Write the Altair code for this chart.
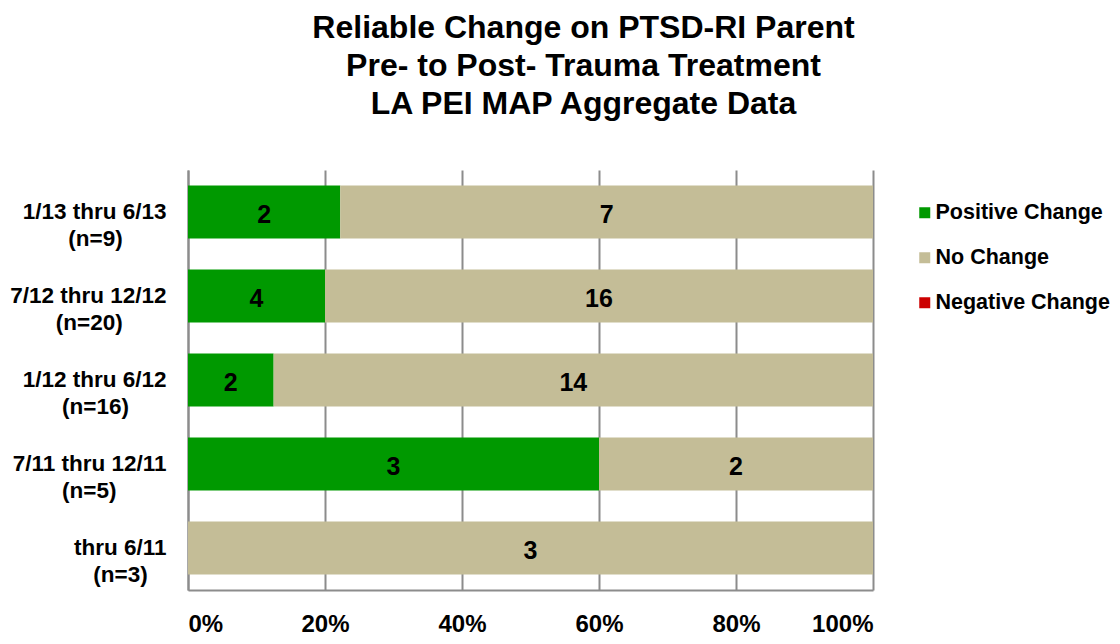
import altair as alt
import pandas as pd

periods_line1 = ["1/13 thru 6/13", "7/12 thru 12/12", "1/12 thru 6/12", "7/11 thru 12/11", "thru 6/11"]
periods_line2 = ["(n=9)", "(n=20)", "(n=16)", "(n=5)", "(n=3)"]
categories = ["Positive Change", "No Change", "Negative Change"]
colors = ["#009900", "#C4BD97", "#CC0000"]
positive = [2, 4, 2, 3, 0]
no_change = [7, 16, 14, 2, 3]
negative = [0, 0, 0, 0, 0]
x_ticks = [0, 0.2, 0.4, 0.6, 0.8, 1.0]

FONT = "Liberation Sans"

# approximate bold Arial advance widths (per 1000 em) to centre the second label line
W = {c: 556 for c in "0123456789"}
W.update({"/": 278, " ": 278, "t": 333, "h": 611, "r": 389, "u": 611,
          "(": 333, ")": 333, "n": 611, "=": 584})


def wid(s):
    return sum(W.get(ch, 556) for ch in s)


labels = []
for l1, l2 in zip(periods_line1, periods_line2):
    pad = max(0, round((wid(l1) - wid(l2)) / 2 / 278))
    # trailing zero-width space keeps the no-break spaces from being trimmed
    labels.append(l1 + "|" + l2 + "\u00a0" * pad + "\u200b")

rows = []
for i, lab in enumerate(labels):
    for j, (cat, vals) in enumerate(zip(categories, [positive, no_change, negative])):
        rows.append({"period": lab, "category": cat, "count": vals[i], "order": j})
df = pd.DataFrame(rows)

y_enc = alt.Y(
    "period:N",
    sort=labels,
    title=None,
    scale=alt.Scale(paddingInner=0.37, paddingOuter=0.186),
    axis=alt.Axis(
        labelExpr="split(datum.label, '|')",
        labelFont=FONT,
        labelFontSize=22.5,
        labelFontWeight="bold",
        labelColor="#000000",
        labelLineHeight=27,
        labelPadding=22,
        labelAlign="right",
        labelBaseline="middle",
        labelLimit=300,
        ticks=False,
        domainColor="#8C8C8C",
        domainWidth=2,
        grid=False,
    ),
)

bars = alt.Chart(df).mark_bar().encode(
    x=alt.X(
        "count:Q",
        stack="normalize",
        title=None,
        scale=alt.Scale(domain=[0, 1], nice=False),
        axis=alt.Axis(
            values=x_ticks,
            format=".0%",
            labelFont=FONT,
            labelFontSize=24,
            labelFontWeight="bold",
            labelColor="#000000",
            labelPadding=22,
            ticks=False,
            domainColor="#8C8C8C",
            domainWidth=2,
            gridColor="#8C8C8C",
            gridWidth=2,
            gridOpacity=1,
        ),
    ),
    y=y_enc,
    color=alt.Color(
        "category:N",
        sort=categories,
        scale=alt.Scale(domain=categories, range=colors),
        legend=alt.Legend(
            title=None,
            orient="none",
            legendX=726,
            legendY=32,
            symbolType="square",
            symbolSize=121,
            symbolStrokeWidth=0,
            labelFont=FONT,
            labelFontSize=21.5,
            labelFontWeight="bold",
            labelColor="#000000",
            labelOffset=0,
            labelLimit=300,
            rowPadding=22,
        ),
    ),
    order=alt.Order("order:Q"),
)

text = (
    alt.Chart(df)
    .transform_filter("datum.count > 0")
    .transform_stack(
        stack="count",
        groupby=["period"],
        as_=["s0", "s1"],
        offset="normalize",
        sort=[alt.SortField("order", order="ascending")],
    )
    .transform_calculate(mid="(datum.s0 + datum.s1) / 2")
    .mark_text(font=FONT, fontSize=25, fontWeight="bold", color="#000000", baseline="middle", dy=3)
    .encode(
        x=alt.X("mid:Q"),
        y=alt.Y("period:N", sort=labels),
        text=alt.Text("count:Q"),
    )
)

chart = (
    alt.layer(bars, text)
    .properties(
        width=685,
        height=420,
        autosize=alt.AutoSizeParams(type="none"),
        padding={"left": 180, "top": 162, "right": 239, "bottom": 46},
        title=alt.TitleParams(
            text=[
                "Reliable Change on PTSD-RI Parent",
                "Pre- to Post- Trauma Treatment",
                "LA PEI MAP Aggregate Data",
            ],
            font=FONT,
            fontSize=32,
            fontWeight="bold",
            color="#000000",
            lineHeight=38,
            anchor="middle",
            frame="group",
            dx=53,
            offset=49,
        ),
    )
    .configure_view(stroke=None)
)

chart.save("out.html", embed_options={"renderer": "svg", "actions": False})
